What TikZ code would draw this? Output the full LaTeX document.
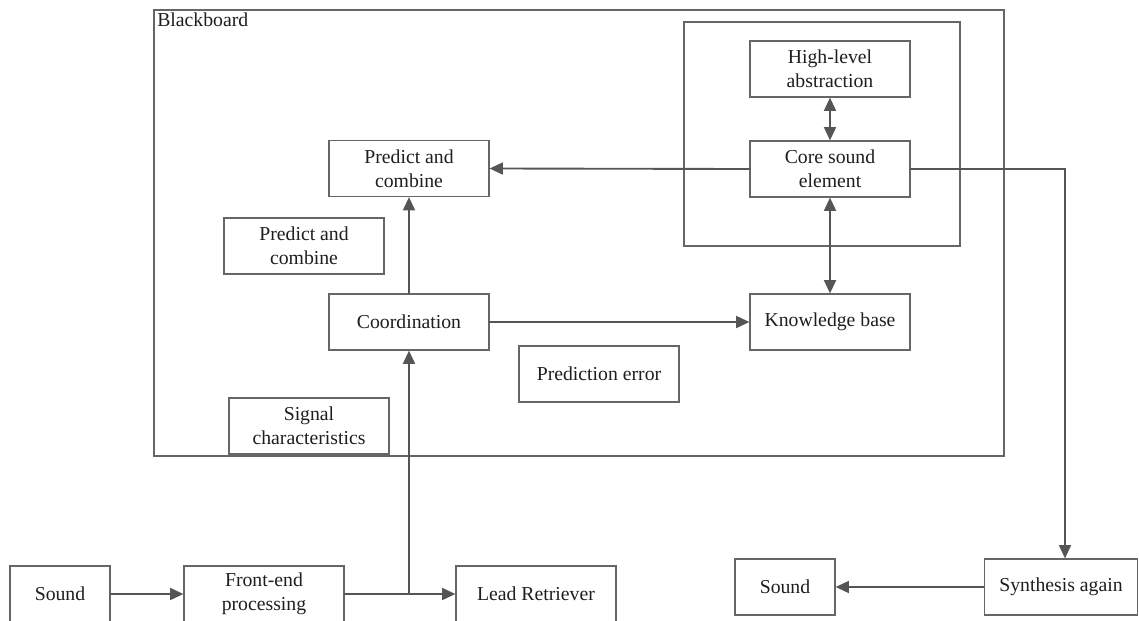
\documentclass[tikz,border=0pt]{standalone}
\usepackage{fontspec}
\newfontfamily\bbfont{Liberation Serif}
\usetikzlibrary{arrows.meta}
\definecolor{bbink}{HTML}{1E1E1E}
\definecolor{bbline}{HTML}{555555}
\definecolor{bbframe}{HTML}{666666}

\begin{document}
\begin{tikzpicture}[x=0.75pt, y=-0.75pt, line cap=round,
  box/.style={draw=bbframe, line width=0.9pt, text=bbink, align=center,
    font=\bbfont\fontsize{14.8}{18}\selectfont, minimum width=120pt, minimum height=42pt, inner sep=2pt},
  flow/.style={bbline, line width=1.4pt, -{Triangle[length=10pt,width=9pt]}},
  both/.style={flow, {Triangle[length=10pt,width=9pt]}-{Triangle[length=10pt,width=9pt]}}]
  \useasboundingbox (0,0) rectangle (1139,621);
  % frames
  \draw[bbframe, line width=0.9pt] (154,10) rectangle (1004,456);
  \node[text=bbink, font=\bbfont\fontsize{14.8}{18}\selectfont, anchor=north west, inner sep=0pt] (bblabel) at (157,13) {Blackboard};
  \draw[bbframe, line width=0.9pt] (684,22) rectangle (960,246);
  % blackboard contents
  \node[box] (high) at (830,69) {High-level\\abstraction};
  \node[box] (core) at (830,169) {Core sound\\element};
  \node[box] (kb) at (830,322) {Knowledge base};
  \node[box] (pcone) at (409,168.5) {Predict and\\combine};
  \node[box] (pctwo) at (304,246) {Predict and\\combine};
  \node[box] (coord) at (409,322) {Coordination};
  \node[box] (perr) at (599,374) {Prediction error};
  \node[box] (sig) at (309,426) {Signal\\characteristics};
  % outside
  \node[box, minimum width=75pt] (sndin) at (60,594) {Sound};
  \node[box] (front) at (264,594) {Front-end\\processing};
  \node[box] (lead) at (536,594) {Lead Retriever};
  \node[box, minimum width=75pt] (sndout) at (785,587) {Sound};
  \node[box, minimum width=115pt] (synth) at (1061,587) {Synthesis again};
  % connectors
  \draw[both] (high.south) -- (core.north);
  \draw[both] (kb.north) -- (core.south);
  \draw[flow] (core.west) -- (pcone.east);
  \draw[flow] (coord.north) -- (pcone.south);
  \draw[flow] (coord.east) -- (kb.west);
  \draw[flow] (sndin.east) -- (front.west);
  \draw[flow] (front.east) -- (lead.west);
  \draw[flow] (front.east -| coord) -- (coord.south);
  \draw[flow] (core.east) -| ([xshift=3pt]synth.north);
  \draw[flow] (synth.west) -- (sndout.east);
\end{tikzpicture}
\end{document}
